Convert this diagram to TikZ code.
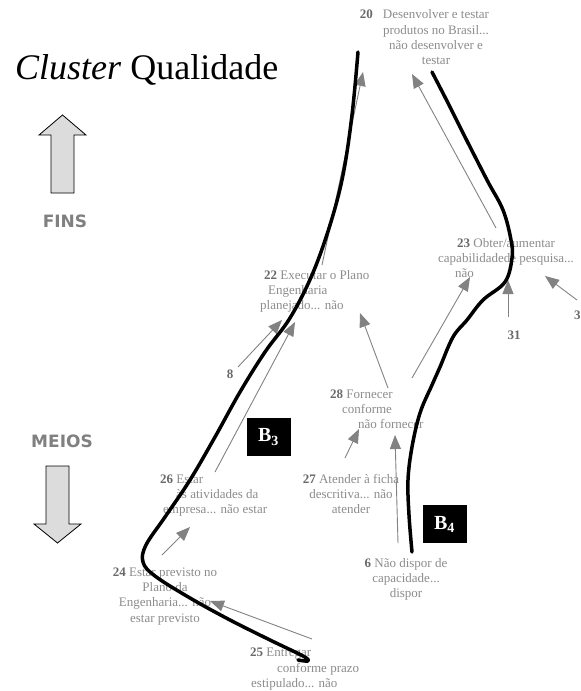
\documentclass[tikz,border=0pt]{standalone}
\usepackage{fontspec}
\setmainfont{Liberation Serif}
\newfontfamily\labelsans{DejaVu Sans}
\usetikzlibrary{arrows.meta}
\definecolor{txtgray}{RGB}{140,140,140}
\definecolor{numgray}{RGB}{105,105,105}
\definecolor{arrgray}{RGB}{130,130,130}
\definecolor{bigarrow}{RGB}{220,220,220}
\definecolor{sidegray}{RGB}{128,128,128}
\newcommand{\cfont}{\fontsize{13}{15.3}\selectfont}
\newcommand{\cnum}[1]{\textcolor{numgray}{\textbf{#1}}}
\begin{document}
\begin{tikzpicture}[x=1pt,y=-1pt,
  conceptL/.style={font=\cfont, text=txtgray, inner sep=0pt, align=left, anchor=north west},
  conceptC/.style={font=\cfont, text=txtgray, inner sep=0pt, align=center, anchor=north},
  numtag/.style={font=\cfont\bfseries, text=numgray, inner sep=0pt, anchor=base},
  link/.style={draw=arrgray, line width=0.9pt, -{Triangle[length=14pt,width=11pt]}, arrgray},
  loopline/.style={draw=black, line width=3.5pt, line cap=round, line join=round},
  looptag/.style={fill=black, text=white, minimum width=44pt, minimum height=38pt, inner sep=0pt,
    font=\fontsize{20}{22}\selectfont\bfseries},
  sidetag/.style={font=\labelsans\bfseries\fontsize{17}{19}\selectfont, text=sidegray, inner sep=0pt},
  bigarr/.style={draw=black, fill=bigarrow, line width=0.8pt, line join=miter}
]
\useasboundingbox (0,0) rectangle (581,691);

% title
\node[anchor=base west, inner sep=0pt, font=\fontsize{36}{40}\selectfont] (title) at (15,79)
  {\textit{Cluster} Qualidade};

% ends / means arrows
\draw[bigarr] (62.5,115) -- (86,135) -- (74,135) -- (74,193) -- (51,193) -- (51,135) -- (39,135) -- cycle;
\node[sidetag] (fins) at (65,221) {FINS};
\node[sidetag] (meios) at (62,441) {MEIOS};
\draw[bigarr] (46,466) -- (69,466) -- (69,524) -- (81,524) -- (57.5,543) -- (34,524) -- (46,524) -- cycle;

% concepts
\node[conceptC] (n20) at (436,7.8)
  {\strut\llap{\cnum{20}\hspace{10pt}}Desenvolver e testar\\produtos no Brasil...\\não desenvolver e\\testar};
\node[conceptL] (n22) at (260,268.3)
  {\strut\hspace*{4pt}\cnum{22} Executar o Plano\\\hspace*{8pt}Engenharia\\planejado... não};
\node[conceptL] (n23) at (438,236.3)
  {\strut\hspace*{19pt}\cnum{23} Obter/aumentar\\capabilidadede pesquisa...\\\hspace*{17pt}não};
\node[conceptL] (n28) at (330,387.3)
  {\strut\cnum{28} Fornecer\\\hspace*{12pt}conforme\\\hspace*{28pt}não fornecer};
\node[conceptC] (n27) at (351,472.3)
  {\strut\cnum{27} Atender à ficha\\descritiva... não\\atender};
\node[conceptC] (n6) at (406,556.3)
  {\strut\cnum{6} Não dispor de\\capacidade...\\dispor};
\node[conceptL] (n26) at (160,472.3)
  {\strut\cnum{26} Estar\\\hspace*{16pt}às atividades da\\\hspace*{3pt}empresa... não estar};
\node[conceptC] (n24) at (165,565.3)
  {\strut\cnum{24} Estar previsto no\\Plano da\\Engenharia... não\\estar previsto};
\node[conceptL] (n25) at (250,645.8)
  {\strut\cnum{25} Entregar\\\hspace*{27pt}conforme prazo\\\hspace*{1pt}estipulado... não};
\node[numtag] (n31) at (514,339) {31};
\node[numtag, anchor=base west] (n3) at (574,319) {3};
\node[numtag] (n8) at (230,378) {8};

% connector end points
\coordinate (e22a) at (322,265);  \coordinate (e20a) at (363,72);
\coordinate (e23a) at (496,228);  \coordinate (e20b) at (412,74);
\coordinate (e8)   at (238,367);  \coordinate (e22b) at (282,320);
\coordinate (e26)  at (215,472);  \coordinate (e22c) at (295,322);
\coordinate (e28a) at (388,388);  \coordinate (e22d) at (360,313);
\coordinate (e28b) at (412,378);  \coordinate (e23b) at (470,277);
\coordinate (e31)  at (508,317);  \coordinate (e23c) at (508,280);
\coordinate (e3)   at (577,300);  \coordinate (e23d) at (545,276);
\coordinate (e27)  at (345,458);  \coordinate (e28c) at (359,429);
\coordinate (e6)   at (398,543);  \coordinate (e28d) at (395,435);
\coordinate (e24)  at (162,555);  \coordinate (e26b) at (190,527);
\coordinate (e25)  at (312,639);  \coordinate (e24b) at (210,601);

% influence links
\draw[link] (e22a) -- (e20a);
\draw[link] (e23a) -- (e20b);
\draw[link] (e8) -- (e22b);
\draw[link] (e26) -- (e22c);
\draw[link] (e28a) -- (e22d);
\draw[link] (e28b) -- (e23b);
\draw[link] (e31) -- (e23c);
\draw[link] (e3) -- (e23d);
\draw[link] (e27) -- (e28c);
\draw[link] (e6) -- (e28d);
\draw[link] (e24) -- (e26b);
\draw[link] (e25) -- (e24b);

% loop boundaries
\draw[loopline] plot[smooth, tension=0.6] coordinates {
  (358,52) (352,115) (343,175) (330,225) (312,275) (290,318) (265,352) (240,392)
  (215,437) (190,480) (165,517) (146,545) (143,562) (155,576) (190,598) (230,620)
  (270,640) (303,656) (308,661) (298,660)};
\draw[loopline] plot[smooth, tension=0.6] coordinates {
  (432,72) (448,103) (463,133) (487,180) (503,210) (511,240) (512,258) (505,282)
  (483,300) (467,320) (453,337) (440,367) (432,385) (420,413) (412,447) (408,480)
  (409,515) (412,552)};

% loop labels
\node[looptag] (b3) at (268.5,437) {B\textsubscript{3}};
\node[looptag] (b4) at (444.5,524) {B\textsubscript{4}};
\end{tikzpicture}
\end{document}
